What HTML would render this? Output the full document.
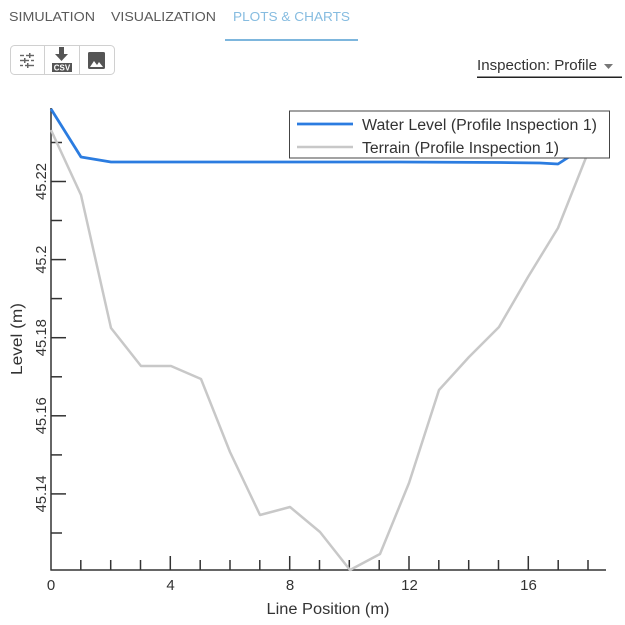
<!DOCTYPE html>
<html>
<head>
<meta charset="utf-8">
<style>
html,body{margin:0;padding:0;background:#fff;}
body{width:625px;height:625px;overflow:hidden;}
svg{display:block;}
</style>
</head>
<body>
<svg width="625" height="625" viewBox="0 0 625 625" xmlns="http://www.w3.org/2000/svg" font-family="Liberation Sans, sans-serif">
  <rect width="625" height="625" fill="#fff"/>
  <!-- Tabs -->
  <text x="9" y="21" font-size="13" fill="#5a5a5a" textLength="86" lengthAdjust="spacingAndGlyphs">SIMULATION</text>
  <text x="111" y="21" font-size="13" fill="#5a5a5a" textLength="105" lengthAdjust="spacingAndGlyphs">VISUALIZATION</text>
  <text x="233" y="21" font-size="13" fill="#86bce0" textLength="117" lengthAdjust="spacingAndGlyphs">PLOTS &amp; CHARTS</text>
  <rect x="225" y="39" width="133" height="2" fill="#7db6dd"/>

  <!-- Button group -->
  <rect x="10.5" y="45.5" width="104" height="29" rx="4" ry="4" fill="#fff" stroke="#d0d0d0"/>
  <line x1="44.5" y1="46" x2="44.5" y2="74" stroke="#d0d0d0"/>
  <line x1="79.5" y1="46" x2="79.5" y2="74" stroke="#d0d0d0"/>
  <!-- sliders icon -->
  <g stroke="#666" stroke-width="1.4">
    <line x1="20" y1="55.5" x2="34" y2="55.5"/>
    <line x1="20" y1="60.5" x2="34" y2="60.5"/>
    <line x1="20" y1="65.5" x2="34" y2="65.5"/>
  </g>
  <g fill="#fff">
    <rect x="24" y="54" width="2" height="3"/>
    <rect x="29" y="59" width="2" height="3"/>
    <rect x="23" y="64" width="2" height="3"/>
  </g>
  <g fill="#666">
    <rect x="29" y="53" width="1.5" height="5"/>
    <rect x="24" y="58" width="1.5" height="5"/>
    <rect x="27" y="63" width="1.5" height="5"/>
  </g>
  <!-- csv download icon -->
  <rect x="59" y="47" width="5" height="7" fill="#555"/>
  <polygon points="55,54 68,54 61.5,61" fill="#555"/>
  <rect x="52" y="63" width="20" height="9" fill="#555"/>
  <text x="62" y="70.5" font-size="8" font-weight="bold" fill="#fff" text-anchor="middle">CSV</text>
  <!-- image icon -->
  <rect x="88" y="52" width="17" height="17" rx="1.5" fill="#555"/>
  <polygon points="90,67 94,61 97,65 99,62 103,67" fill="#fff"/>

  <!-- Dropdown -->
  <text x="477" y="70" font-size="14.5" fill="#333" textLength="120" lengthAdjust="spacingAndGlyphs">Inspection: Profile</text>
  <polygon points="604,64 613,64 608.5,69" fill="#777"/>
  <rect x="477" y="76.5" width="145" height="1.5" fill="#222"/>

  <!-- Axes -->
  <g stroke="#333" stroke-width="1.5">
    <line x1="51" y1="108" x2="51" y2="570.5"/>
    <line x1="50.5" y1="570" x2="606" y2="570"/>
    <!-- y ticks major -->
    <line x1="51" y1="181.5" x2="66" y2="181.5"/>
    <line x1="51" y1="259.6" x2="66" y2="259.6"/>
    <line x1="51" y1="337.7" x2="66" y2="337.7"/>
    <line x1="51" y1="415.8" x2="66" y2="415.8"/>
    <line x1="51" y1="493.9" x2="66" y2="493.9"/>
    <!-- y ticks minor -->
    <line x1="51" y1="142.5" x2="62" y2="142.5"/>
    <line x1="51" y1="220.5" x2="62" y2="220.5"/>
    <line x1="51" y1="298.6" x2="62" y2="298.6"/>
    <line x1="51" y1="376.8" x2="62" y2="376.8"/>
    <line x1="51" y1="454.9" x2="62" y2="454.9"/>
    <line x1="51" y1="533" x2="62" y2="533"/>
    <!-- x ticks -->
    <line x1="80.8" y1="570" x2="80.8" y2="560"/>
    <line x1="110.7" y1="570" x2="110.7" y2="560"/>
    <line x1="140.5" y1="570" x2="140.5" y2="560"/>
    <line x1="170.3" y1="570" x2="170.3" y2="556"/>
    <line x1="200.2" y1="570" x2="200.2" y2="560"/>
    <line x1="230" y1="570" x2="230" y2="560"/>
    <line x1="259.8" y1="570" x2="259.8" y2="560"/>
    <line x1="289.7" y1="570" x2="289.7" y2="556"/>
    <line x1="319.5" y1="570" x2="319.5" y2="560"/>
    <line x1="349.3" y1="570" x2="349.3" y2="560"/>
    <line x1="379.2" y1="570" x2="379.2" y2="560"/>
    <line x1="409" y1="570" x2="409" y2="556"/>
    <line x1="438.8" y1="570" x2="438.8" y2="560"/>
    <line x1="468.7" y1="570" x2="468.7" y2="560"/>
    <line x1="498.5" y1="570" x2="498.5" y2="560"/>
    <line x1="528.3" y1="570" x2="528.3" y2="556"/>
    <line x1="558.2" y1="570" x2="558.2" y2="560"/>
    <line x1="588" y1="570" x2="588" y2="560"/>
  </g>

  <!-- x labels -->
  <g font-size="15" fill="#333" text-anchor="middle">
    <text x="51" y="590">0</text>
    <text x="170.5" y="590">4</text>
    <text x="290" y="590">8</text>
    <text x="409.5" y="590">12</text>
    <text x="528.5" y="590">16</text>
  </g>
  <text x="328" y="614" font-size="15.5" fill="#333" text-anchor="middle" textLength="123" lengthAdjust="spacingAndGlyphs">Line Position (m)</text>

  <!-- y labels -->
  <g font-size="15" fill="#333" text-anchor="middle">
    <text transform="translate(46,181.5) rotate(-90)" textLength="37" lengthAdjust="spacingAndGlyphs">45.22</text>
    <text transform="translate(46,259.6) rotate(-90)" textLength="28" lengthAdjust="spacingAndGlyphs">45.2</text>
    <text transform="translate(46,337.7) rotate(-90)" textLength="37" lengthAdjust="spacingAndGlyphs">45.18</text>
    <text transform="translate(46,415.8) rotate(-90)" textLength="37" lengthAdjust="spacingAndGlyphs">45.16</text>
    <text transform="translate(46,493.9) rotate(-90)" textLength="37" lengthAdjust="spacingAndGlyphs">45.14</text>
  </g>
  <text transform="translate(22,339) rotate(-90)" font-size="15.5" fill="#333" text-anchor="middle" textLength="72" lengthAdjust="spacingAndGlyphs">Level (m)</text>

  <!-- Terrain series -->
  <polyline fill="none" stroke="#c8c8c8" stroke-width="2.5" stroke-linejoin="round"
    points="51,130 81,195 111,328 141,366 171,366 201,379 230,452 260,515 290,507 320,532 350,570 380,554 409,483 439,390 469,357 499,327 528,277 558,228 589,150"/>
  <!-- Water level series -->
  <polyline fill="none" stroke="#2b7ce0" stroke-width="2.8" stroke-linejoin="round"
    points="51,109 81,157 111,162 200,162 300,162 400,162 500,162.5 540,163 558,164 572,155 589,142"/>

  <!-- Legend -->
  <rect x="289.5" y="111" width="320" height="47" fill="#fff" stroke="#444" stroke-width="1"/>
  <line x1="297" y1="124" x2="353" y2="124" stroke="#2b7ce0" stroke-width="2.8"/>
  <line x1="297" y1="147" x2="353" y2="147" stroke="#c8c8c8" stroke-width="2.5"/>
  <text x="362" y="130" font-size="15.5" fill="#333" textLength="235" lengthAdjust="spacingAndGlyphs">Water Level (Profile Inspection 1)</text>
  <text x="362" y="153" font-size="15.5" fill="#333" textLength="197" lengthAdjust="spacingAndGlyphs">Terrain (Profile Inspection 1)</text>
</svg>
</body>
</html>
